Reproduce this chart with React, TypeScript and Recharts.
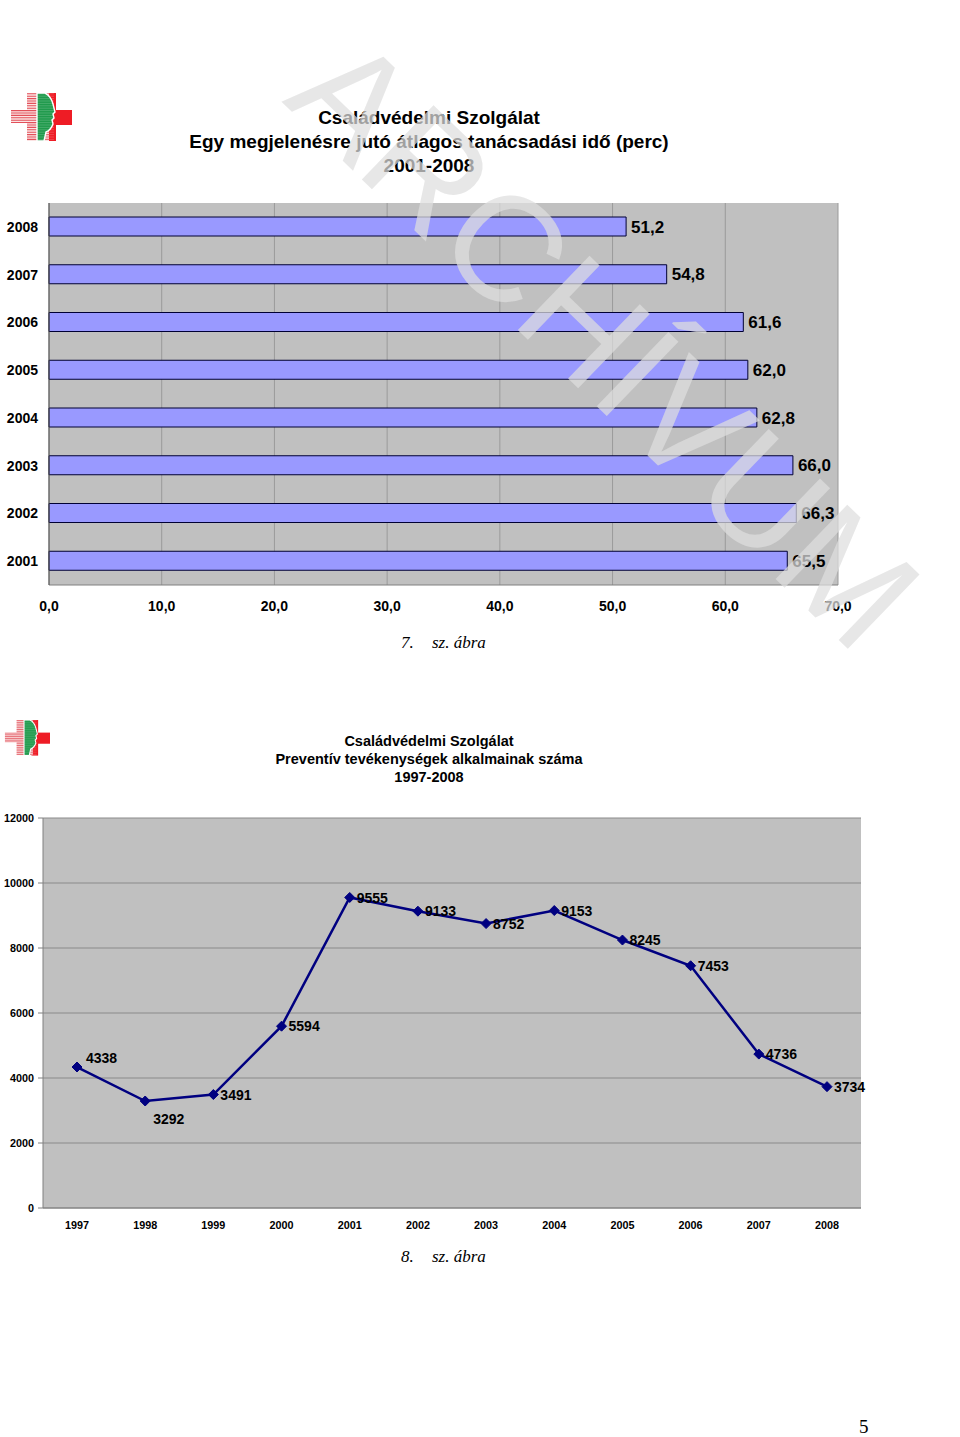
import React from "react";
import {
  Bar,
  BarChart,
  CartesianGrid,
  LabelList,
  Line,
  LineChart,
  XAxis,
  YAxis,
} from "recharts";

// 7. ábra – átlagos tanácsadási idő (perc)
const timeYears = ["2001", "2002", "2003", "2004", "2005", "2006", "2007", "2008"];
const timeMinutes = [65.5, 66.3, 66.0, 62.8, 62.0, 61.6, 54.8, 51.2];
const minuteTicks = [0, 10, 20, 30, 40, 50, 60, 70];

// 8. ábra – preventív tevékenységek száma
const preventYears = [
  "1997", "1998", "1999", "2000", "2001", "2002",
  "2003", "2004", "2005", "2006", "2007", "2008",
];
const preventCounts = [4338, 3292, 3491, 5594, 9555, 9133, 8752, 9153, 8245, 7453, 4736, 3734];
const countTicks = [0, 2000, 4000, 6000, 8000, 10000, 12000];

const timeData = timeYears.map((year, i) => ({ year, minutes: timeMinutes[i] }));
const preventData = preventYears.map((year, i) => ({ year, count: preventCounts[i] }));

const SANS = "'Liberation Sans', Arial, sans-serif";
const SERIF = "'Liberation Serif', 'Times New Roman', serif";

const fmt = (v: number) => v.toFixed(1).replace(".", ",");

function Logo({ width }: { width: number }) {
  const rows = [];
  for (let y = 0; y < 48; y += 2.4) rows.push(y + 0.8);
  const clipId = `cross-${width}`;
  return (
    <svg width={width} height={(width * 49) / 62} viewBox="0 0 62 49">
      <defs>
        <clipPath id={clipId}>
          <rect x={1} y={17} width={20} height={13} />
          <rect x={17} y={0} width={22} height={48} />
        </clipPath>
      </defs>
      <rect x={37} y={0} width={9} height={48} fill="#ee1c25" />
      <rect x={44} y={17} width={18} height={15} fill="#ee1c25" />
      <g clipPath={`url(#${clipId})`}>
        <rect x={0} y={0} width={40} height={48} fill="#fbe3e3" />
        {rows.map((y) => (
          <line key={y} x1={0} x2={40} y1={y} y2={y} stroke="#e2505a" strokeWidth={1.1} />
        ))}
      </g>
      <path
        d="M27,0 L35,0 Q41,3 43,11 L45,19 L43,21 L44,25 L42,27 L43,31 Q41,37 36,39 L34,48 L27,48 Z"
        fill="#1f9a4c"
        stroke="#fff"
        strokeWidth={1.4}
      />
      <g opacity={0.3}>
        {rows.map((y) => (
          <line key={y} x1={27} x2={44} y1={y} y2={y} stroke="#fff" strokeWidth={0.6} />
        ))}
      </g>
    </svg>
  );
}

function Diamond(props: any) {
  const { cx, cy, index } = props;
  if (cx == null || cy == null) return <g key={index} />;
  const r = 5;
  return (
    <polygon
      key={index}
      points={`${cx},${cy - r} ${cx + r},${cy} ${cx},${cy + r} ${cx - r},${cy}`}
      fill="#000080"
      stroke="#000080"
    />
  );
}

function CountLabel(props: any) {
  const { x, y, value, index } = props;
  let dx = 7;
  let dy = 0;
  if (index === 0) {
    dx = 9;
    dy = -9;
  } else if (index === 1) {
    dx = 8;
    dy = 18;
  }
  return (
    <text key={index} x={x + dx} y={y + dy} dy="0.36em" fontSize={14} fontWeight={700} fill="#000">
      {value}
    </text>
  );
}

export default function App() {
  const axisTick = { fill: "#000", fontWeight: 700 };
  return (
    <div
      style={{
        position: "absolute",
        left: 0,
        top: 0,
        width: 960,
        height: 1437,
        background: "#fff",
        overflow: "hidden",
        fontFamily: SANS,
      }}
    >
      {/* 7. ábra */}
      <div style={{ position: "absolute", left: 10, top: 93 }}>
        <Logo width={62} />
      </div>
      <div
        style={{
          position: "absolute",
          left: 0,
          top: 106,
          width: 858,
          textAlign: "center",
          fontSize: 19,
          fontWeight: 700,
          lineHeight: "24px",
        }}
      >
        <div>Családvédelmi Szolgálat</div>
        <div>Egy megjelenésre jutó átlagos tanácsadási idő (perc)</div>
        <div>2001-2008</div>
      </div>
      <div style={{ position: "absolute", left: 0, top: 190 }}>
        <BarChart
          width={960}
          height={440}
          data={timeData}
          layout="vertical"
          margin={{ top: 13, right: 122, bottom: 0, left: 0 }}
        >
          <CartesianGrid horizontal={false} stroke="#9a9a9a" fill="#c0c0c0" />
          <XAxis
            type="number"
            domain={[0, 70]}
            ticks={minuteTicks}
            tickFormatter={fmt}
            height={45}
            tickLine={false}
            tickMargin={10}
            axisLine={{ stroke: "#808080" }}
            tick={{ ...axisTick, fontSize: 14 }}
          />
          <XAxis
            xAxisId="top"
            orientation="top"
            type="number"
            domain={[0, 70]}
            height={0}
            tick={false}
            tickLine={false}
            axisLine={{ stroke: "#8a8a8a" }}
          />
          <YAxis
            type="category"
            dataKey="year"
            reversed
            width={49}
            tickLine={false}
            tickMargin={5}
            axisLine={{ stroke: "#505050" }}
            tick={{ ...axisTick, fontSize: 14 }}
          />
          <Bar
            dataKey="minutes"
            fill="#9999ff"
            stroke="#000033"
            strokeWidth={1}
            barSize={19}
            isAnimationActive={false}
          >
            <LabelList
              dataKey="minutes"
              position="right"
              offset={5}
              formatter={(v: any) => fmt(Number(v))}
              style={{ fontSize: 17, fontWeight: 700, fill: "#000" }}
            />
          </Bar>
        </BarChart>
      </div>
      <div style={{ position: "absolute", left: 401, top: 632, fontFamily: SERIF, fontStyle: "italic", fontSize: 17, lineHeight: "22px" }}>
        <span style={{ display: "inline-block", width: 31 }}>7.</span>
        <span>sz. ábra</span>
      </div>

      {/* 8. ábra */}
      <div style={{ position: "absolute", left: 4, top: 720 }}>
        <Logo width={46} />
      </div>
      <div
        style={{
          position: "absolute",
          left: 0,
          top: 732,
          width: 858,
          textAlign: "center",
          fontSize: 14.5,
          fontWeight: 700,
          lineHeight: "18px",
        }}
      >
        <div>Családvédelmi Szolgálat</div>
        <div>Preventív tevékenységek alkalmainak száma</div>
        <div>1997-2008</div>
      </div>
      <div style={{ position: "absolute", left: 0, top: 800 }}>
        <LineChart
          width={960}
          height={440}
          data={preventData}
          margin={{ top: 18, right: 99, bottom: 0, left: 0 }}
        >
          <CartesianGrid vertical={false} stroke="#8a8a8a" fill="#c0c0c0" />
          <XAxis
            dataKey="year"
            padding={{ left: 34, right: 34 }}
            interval={0}
            height={32}
            tickLine={false}
            tickMargin={7}
            axisLine={{ stroke: "#808080" }}
            tick={{ ...axisTick, fontSize: 10.8 }}
          />
          <YAxis
            domain={[0, 12000]}
            ticks={countTicks}
            width={43}
            tickSize={5}
            tickMargin={4}
            tickLine={{ stroke: "#808080" }}
            axisLine={{ stroke: "#808080" }}
            tick={{ ...axisTick, fontSize: 10.8 }}
          />
          <YAxis
            yAxisId="right"
            orientation="right"
            domain={[0, 12000]}
            width={0}
            tick={false}
            tickLine={false}
            axisLine={{ stroke: "#8a8a8a" }}
          />
          <Line
            dataKey="count"
            stroke="#000080"
            strokeWidth={2.5}
            dot={Diamond}
            label={CountLabel}
            isAnimationActive={false}
          />
        </LineChart>
      </div>
      <div style={{ position: "absolute", left: 401, top: 1246, fontFamily: SERIF, fontStyle: "italic", fontSize: 17, lineHeight: "22px" }}>
        <span style={{ display: "inline-block", width: 31 }}>8.</span>
        <span>sz. ábra</span>
      </div>

      <div style={{ position: "absolute", left: 859, top: 1416, fontFamily: SERIF, fontSize: 19, lineHeight: "22px" }}>5</div>

      {/* watermark */}
      <div
        style={{
          position: "absolute",
          left: 605,
          top: 342,
          transform: "translate(-50%, -50%) rotate(44deg)",
          fontSize: 150,
          lineHeight: 1,
          whiteSpace: "nowrap",
          color: "rgba(222,222,222,0.72)",
          pointerEvents: "none",
        }}
      >
        ARCHÍVUM
      </div>
    </div>
  );
}
